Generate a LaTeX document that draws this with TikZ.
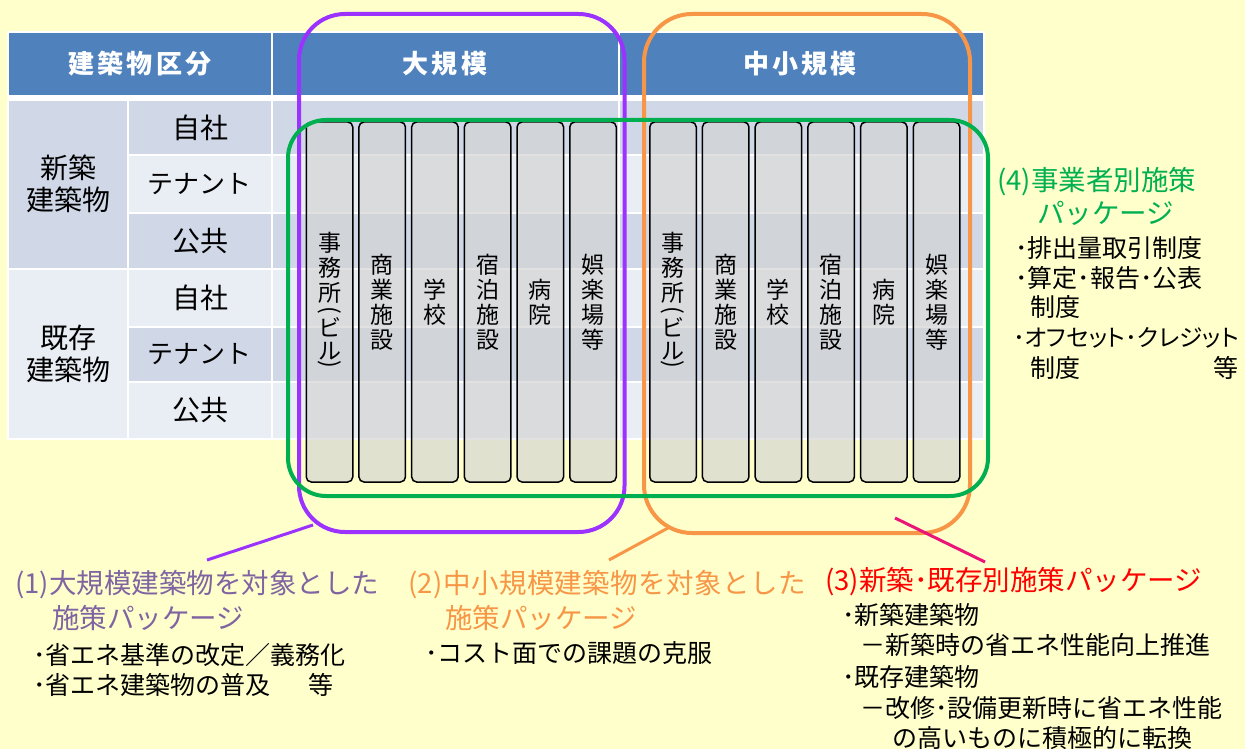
\documentclass[tikz,border=0pt]{standalone}
\usepackage{fontspec}
\setmainfont{Noto Sans CJK JP}
\newfontfamily\pfont{Noto Sans CJK JP}[RawFeature=+palt]
\definecolor{bgy}{RGB}{255,255,204}
\definecolor{hdr}{RGB}{79,129,189}
\definecolor{rowd}{RGB}{208,216,232}
\definecolor{rowl}{RGB}{233,237,244}
\definecolor{barf}{RGB}{210,210,210}
\definecolor{cpur}{RGB}{155,50,255}
\definecolor{cora}{RGB}{247,150,70}
\definecolor{cgrn}{RGB}{0,176,80}
\definecolor{cpink}{RGB}{235,20,120}
\definecolor{tpur}{RGB}{128,100,162}
\definecolor{tred}{RGB}{255,0,0}
\newcommand\jimutxt{事\\務\\所\\[-9pt]\rotatebox[origin=c]{-90}{(}\\[-5.5pt]ビ\\[-2.5pt]ル\\[-12.5pt]\rotatebox[origin=c]{-90}{)}}
\begin{document}
\begin{tikzpicture}[x=1pt,y=-1pt,
  cell/.style={draw=white,line width=1.5pt},
  hdrtext/.style={text=white,inner sep=0,font=\bfseries\fontsize{26}{30}\selectfont\addfontfeatures{LetterSpace=12}},
  celltext/.style={inner sep=0,align=center,font=\fontsize{28}{32}\selectfont},
  bar/.style={draw=black,line width=1.5pt,fill=barf,fill opacity=0.65,text opacity=1,rounded corners=5pt,minimum width=46.5pt,minimum height=360pt,inner sep=0,align=center,font=\fontsize{23}{25}\selectfont},
  grp/.style={line width=4pt},
  link/.style={line width=3pt},
  head/.style={anchor=west,inner sep=0,font=\fontsize{27.5}{30}\selectfont},
  item/.style={anchor=west,inner sep=0,font=\fontsize{25}{28}\selectfont}]
\useasboundingbox (0,0) rectangle (1245,749);
\fill[bgy] (0,0) rectangle (1245,749);
% header
\filldraw[cell,fill=hdr] (8,32) rectangle (272,96);
\filldraw[cell,fill=hdr] (272,32) rectangle (619,96);
\filldraw[cell,fill=hdr] (619,32) rectangle (984,96);
\fill[white] (8,96) rectangle (984,100);
% first column
\filldraw[cell,fill=rowd] (8,100) rectangle (128,269);
\filldraw[cell,fill=rowl] (8,269) rectangle (128,439);
% rows
\foreach \ya/\yb/\c in {100/155/rowd,155/213/rowl,213/269/rowd,269/327/rowl,327/382/rowd,382/439/rowl}{
  \filldraw[cell,fill=\c] (128,\ya) rectangle (272,\yb);
  \filldraw[cell,fill=\c] (272,\ya) rectangle (619,\yb);
  \filldraw[cell,fill=\c] (619,\ya) rectangle (984,\yb);
}
% header texts
\node[hdrtext] (h0) at (140,64) {建築物区分};
\node[hdrtext] (h1) at (445,64) {大規模};
\node[hdrtext] (h2) at (800,64) {中小規模};
\node[celltext] (g1) at (68,184) {新築\\建築物};
\node[celltext] (g2) at (68,354) {既存\\建築物};
\node[celltext] (r1) at (200,127.5) {自社};
\node[celltext,font=\fontsize{26}{32}\selectfont] (r2) at (199,184) {テナント};
\node[celltext] (r3) at (200,241) {公共};
\node[celltext] (r4) at (200,298) {自社};
\node[celltext,font=\fontsize{26}{32}\selectfont] (r5) at (199,354.5) {テナント};
\node[celltext] (r6) at (200,410.5) {公共};
% bars
\node[bar] (a1) at (329.5,302) {\jimutxt};
\node[bar] (a2) at (382.2,302) {商\\業\\施\\設};
\node[bar] (a3) at (434.9,302) {学\\校};
\node[bar] (a4) at (487.6,302) {宿\\泊\\施\\設};
\node[bar] (a5) at (540.3,302) {病\\院};
\node[bar] (a6) at (593,302) {娯\\楽\\場\\等};
\node[bar] (b1) at (673,302) {\jimutxt};
\node[bar] (b2) at (725.7,302) {商\\業\\施\\設};
\node[bar] (b3) at (778.4,302) {学\\校};
\node[bar] (b4) at (831.1,302) {宿\\泊\\施\\設};
\node[bar] (b5) at (883.8,302) {病\\院};
\node[bar] (b6) at (936.5,302) {娯\\楽\\場\\等};
% group outlines
\draw[grp,cpur,rounded corners=46pt] (299,14) rectangle (624.5,532);
\draw[grp,cora,rounded corners=48pt] (644,14) rectangle (970,533);
\draw[grp,cgrn,rounded corners=38pt] (288,120) rectangle (988,496);
% connectors
\coordinate (c1a) at (313,525); \coordinate (c1b) at (207,560);
\coordinate (c2a) at (668,528); \coordinate (c2b) at (609,560);
\coordinate (c3a) at (895,518); \coordinate (c3b) at (985,562);
\draw[link,cpur] (c1a) -- (c1b);
\draw[link,cora] (c2a) -- (c2b);
\draw[link,cpink] (c3a) -- (c3b);
% (1)
\node[head,text=tpur] (t1a) at (15,585) {(1)大規模建築物を対象とした};
\node[head,text=tpur] (t1b) at (52,618) {施策パッケージ};
\node[item] (t1c) at (33,655) {･省エネ基準の改定／義務化};
\node[item] (t1d) at (33,685) {･省エネ建築物の普及\hspace{38pt}等};
% (2)
\node[head,text=cora,font=\fontsize{27.5}{30}\selectfont\addfontfeatures{LetterSpace=1.5}] (t2a) at (408,585) {(2)中小規模建築物を対象とした};
\node[head,text=cora] (t2b) at (445,618) {施策パッケージ};
\node[item] (t2c) at (425,653) {･コスト面での課題の克服};
% (3)
\node[head,text=tred] (t3a) at (825,582) {(3)新築･既存別施策パッケージ};
\node[item] (t3b) at (842,615) {･新築建築物};
\node[item] (t3c) at (860,645) {－新築時の省エネ性能向上推進};
\node[item] (t3d) at (842,677) {･既存建築物};
\node[item] (t3e) at (860,708) {－改修･設備更新時に省エネ性能};
\node[item] (t3f) at (892,738) {の高いものに積極的に転換};
% (4)
\node[head,text=cgrn] (t4a) at (997,182) {(4)事業者別施策};
\node[head,text=cgrn] (t4b) at (1037,213) {パッケージ};
\node[item] (t4c) at (1015,248) {･排出量取引制度};
\node[item] (t4d) at (1015,278) {･算定･報告･公表};
\node[item] (t4e) at (1030,307) {制度};
\node[item,font=\fontsize{23.6}{28}\pfont] (t4f) at (1013,338) {･オフセット･クレジット};
\node[item] (t4g) at (1030,368) {制度};
\node[item] (t4h) at (1213,368) {等};
\end{tikzpicture}
\end{document}
